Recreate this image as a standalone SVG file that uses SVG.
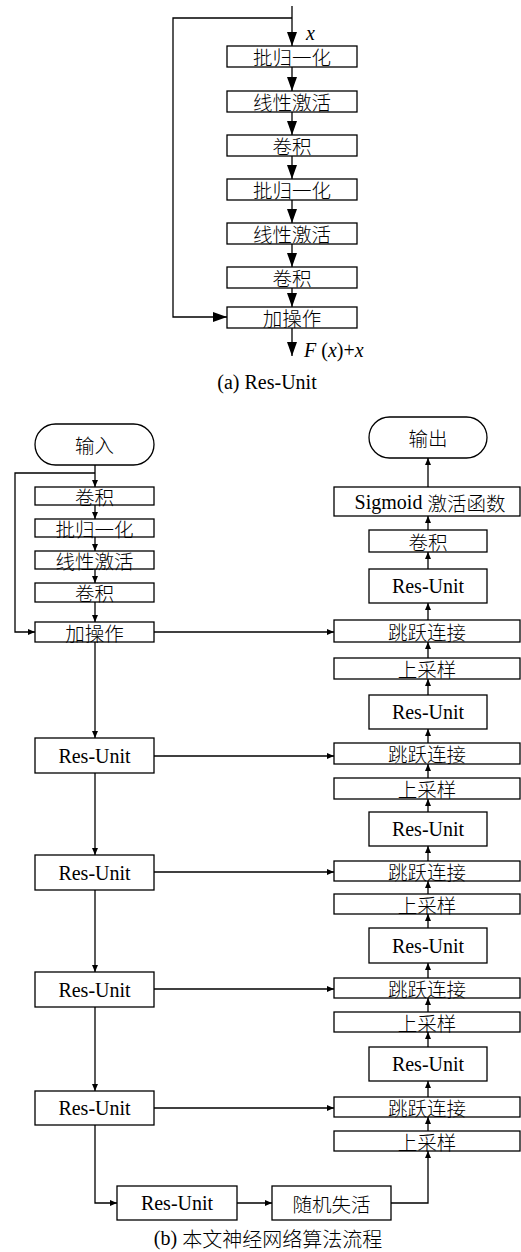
<svg xmlns="http://www.w3.org/2000/svg" width="521" height="1252" viewBox="0 0 521 1252">
<style>
.box{fill:#fff;stroke:#000;stroke-width:1.3}
.t{font-family:'Liberation Serif',serif;font-size:20px;text-anchor:middle;dominant-baseline:central;fill:#000}
.c{font-family:'Noto Sans CJK SC',sans-serif;font-size:19.5px;font-weight:300}
.i{font-style:italic}
.ln{fill:none;stroke:#000;stroke-width:1.3}
.la{marker-end:url(#big)}
.sa{marker-end:url(#sm)}
</style>
<defs>
<marker id="big" markerUnits="userSpaceOnUse" markerWidth="14" markerHeight="10" refX="14" refY="5" orient="auto"><path d="M0,0L14,5L0,10z"/></marker>
<marker id="sm" markerUnits="userSpaceOnUse" markerWidth="7" markerHeight="6" refX="7" refY="3" orient="auto"><path d="M0,0L7,3L0,6z"/></marker>
</defs>
<rect width="521" height="1252" fill="#fff"/>

<g id="connectors">
<path class="ln la" d="M292,6V46"/>
<path class="ln la" d="M292,67V91"/>
<path class="ln la" d="M292,112V135"/>
<path class="ln la" d="M292,156V179"/>
<path class="ln la" d="M292,200V223"/>
<path class="ln la" d="M292,244V267"/>
<path class="ln la" d="M292,288V307"/>
<path class="ln la" d="M292,328V356"/>
<path class="ln la" d="M292,18H173V317H227"/>
<path class="ln sa" d="M95,465V487"/>
<path class="ln sa" d="M95,505V519"/>
<path class="ln sa" d="M95,537V551"/>
<path class="ln sa" d="M95,569V583"/>
<path class="ln sa" d="M95,602V622"/>
<path class="ln sa" d="M95,473H15V632H35"/>
<path class="ln sa" d="M95,642V738"/>
<path class="ln sa" d="M95,773V855"/>
<path class="ln sa" d="M95,890V972"/>
<path class="ln sa" d="M95,1007V1091"/>
<path class="ln sa" d="M95,1125V1203H117"/>
<path class="ln sa" d="M237,1203H272"/>
<path class="ln sa" d="M391,1203H428V1151"/>
<path class="ln sa" d="M154,632H334"/>
<path class="ln sa" d="M154,756H334"/>
<path class="ln sa" d="M154,872H334"/>
<path class="ln sa" d="M154,989H334"/>
<path class="ln sa" d="M154,1108H334"/>
<path class="ln sa" d="M428,1131V1117"/>
<path class="ln sa" d="M428,1097V1081"/>
<path class="ln sa" d="M428,1047V1032"/>
<path class="ln sa" d="M428,1012V998"/>
<path class="ln sa" d="M428,978V963"/>
<path class="ln sa" d="M428,928V914"/>
<path class="ln sa" d="M428,894V881"/>
<path class="ln sa" d="M428,861V846"/>
<path class="ln sa" d="M428,812V799"/>
<path class="ln sa" d="M428,778V764"/>
<path class="ln sa" d="M428,743V729"/>
<path class="ln sa" d="M428,695V679"/>
<path class="ln sa" d="M428,658V642"/>
<path class="ln sa" d="M428,620V603"/>
<path class="ln sa" d="M428,569V552"/>
<path class="ln sa" d="M428,530V516"/>
<path class="ln sa" d="M428,487V458"/>
</g>

<g id="a1"><rect class="box" x="227" y="46" width="130" height="21"/><text class="t c" x="292" y="56.5">批归一化</text></g>
<g id="a2"><rect class="box" x="227" y="91" width="130" height="21"/><text class="t c" x="292" y="101.5">线性激活</text></g>
<g id="a3"><rect class="box" x="227" y="135" width="130" height="21"/><text class="t c" x="292" y="145.5">卷积</text></g>
<g id="a4"><rect class="box" x="227" y="179" width="130" height="21"/><text class="t c" x="292" y="189.5">批归一化</text></g>
<g id="a5"><rect class="box" x="227" y="223" width="130" height="21"/><text class="t c" x="292" y="233.5">线性激活</text></g>
<g id="a6"><rect class="box" x="227" y="267" width="130" height="21"/><text class="t c" x="292" y="277.5">卷积</text></g>
<g id="a7"><rect class="box" x="227" y="307" width="130" height="21"/><text class="t c" x="292" y="317.5">加操作</text></g>
<g id="a-labels">
<text class="t i" x="306" y="33" style="text-anchor:start">x</text>
<text class="t" x="304" y="350" style="text-anchor:start"><tspan class="i">F</tspan> (<tspan class="i">x</tspan>)+<tspan class="i">x</tspan></text>
<text class="t" x="267" y="382">(a) Res-Unit</text>
</g>

<g id="b-in"><rect class="box" x="35" y="424" width="119" height="41" rx="20.5"/><text class="t c" x="94.5" y="444.5">输入</text></g>
<g id="b1"><rect class="box" x="35" y="487" width="119" height="18"/><text class="t c" x="94.5" y="496">卷积</text></g>
<g id="b2"><rect class="box" x="35" y="519" width="119" height="18"/><text class="t c" x="94.5" y="528">批归一化</text></g>
<g id="b3"><rect class="box" x="35" y="551" width="119" height="18"/><text class="t c" x="94.5" y="560">线性激活</text></g>
<g id="b4"><rect class="box" x="35" y="583" width="119" height="19"/><text class="t c" x="94.5" y="592.5">卷积</text></g>
<g id="b5"><rect class="box" x="35" y="622" width="119" height="20"/><text class="t c" x="94.5" y="632">加操作</text></g>
<g id="l-ru1"><rect class="box" x="35" y="738" width="119" height="35"/><text class="t" x="94.5" y="755.5">Res-Unit</text></g>
<g id="l-ru2"><rect class="box" x="35" y="855" width="119" height="35"/><text class="t" x="94.5" y="872.5">Res-Unit</text></g>
<g id="l-ru3"><rect class="box" x="35" y="972" width="119" height="35"/><text class="t" x="94.5" y="989.5">Res-Unit</text></g>
<g id="l-ru4"><rect class="box" x="35" y="1091" width="119" height="34"/><text class="t" x="94.5" y="1108">Res-Unit</text></g>
<g id="bot-ru"><rect class="box" x="117" y="1186" width="120" height="34"/><text class="t" x="177" y="1203">Res-Unit</text></g>
<g id="dropout"><rect class="box" x="272" y="1186" width="119" height="34"/><text class="t c" x="331.5" y="1203">随机失活</text></g>

<g id="b-out"><rect class="box" x="369" y="417" width="118" height="41" rx="20.5"/><text class="t c" x="428" y="437.5">输出</text></g>
<g id="sigmoid"><rect class="box" x="334" y="487" width="186" height="29"/><text class="t" x="430" y="501.5">Sigmoid <tspan class="c">激活函数</tspan></text></g>
<g id="r-conv"><rect class="box" x="369" y="530" width="118" height="22"/><text class="t c" x="428" y="541">卷积</text></g>
<g id="r-ru0"><rect class="box" x="369" y="569" width="118" height="34"/><text class="t" x="428" y="586">Res-Unit</text></g>
<g id="skip1"><rect class="box" x="334" y="620" width="186" height="22"/><text class="t c" x="427" y="631">跳跃连接</text></g>
<g id="up1"><rect class="box" x="334" y="658" width="186" height="21"/><text class="t c" x="427" y="668.5">上采样</text></g>
<g id="r-ru1"><rect class="box" x="369" y="695" width="118" height="34"/><text class="t" x="428" y="712">Res-Unit</text></g>
<g id="skip2"><rect class="box" x="334" y="743" width="186" height="21"/><text class="t c" x="427" y="753.5">跳跃连接</text></g>
<g id="up2"><rect class="box" x="334" y="778" width="186" height="21"/><text class="t c" x="427" y="788.5">上采样</text></g>
<g id="r-ru2"><rect class="box" x="369" y="812" width="118" height="34"/><text class="t" x="428" y="829">Res-Unit</text></g>
<g id="skip3"><rect class="box" x="334" y="861" width="186" height="20"/><text class="t c" x="427" y="871">跳跃连接</text></g>
<g id="up3"><rect class="box" x="334" y="894" width="186" height="20"/><text class="t c" x="427" y="904">上采样</text></g>
<g id="r-ru3"><rect class="box" x="369" y="928" width="118" height="35"/><text class="t" x="428" y="945.5">Res-Unit</text></g>
<g id="skip4"><rect class="box" x="334" y="978" width="186" height="20"/><text class="t c" x="427" y="988">跳跃连接</text></g>
<g id="up4"><rect class="box" x="334" y="1012" width="186" height="20"/><text class="t c" x="427" y="1022">上采样</text></g>
<g id="r-ru4"><rect class="box" x="369" y="1047" width="118" height="34"/><text class="t" x="428" y="1064">Res-Unit</text></g>
<g id="skip5"><rect class="box" x="334" y="1097" width="186" height="20"/><text class="t c" x="427" y="1107">跳跃连接</text></g>
<g id="up5"><rect class="box" x="334" y="1131" width="186" height="20"/><text class="t c" x="427" y="1141">上采样</text></g>
<g id="b-caption"><text class="t" x="268" y="1238">(b) <tspan class="c" style="font-size:20px">本文神经网络算法流程</tspan></text></g>
</svg>
